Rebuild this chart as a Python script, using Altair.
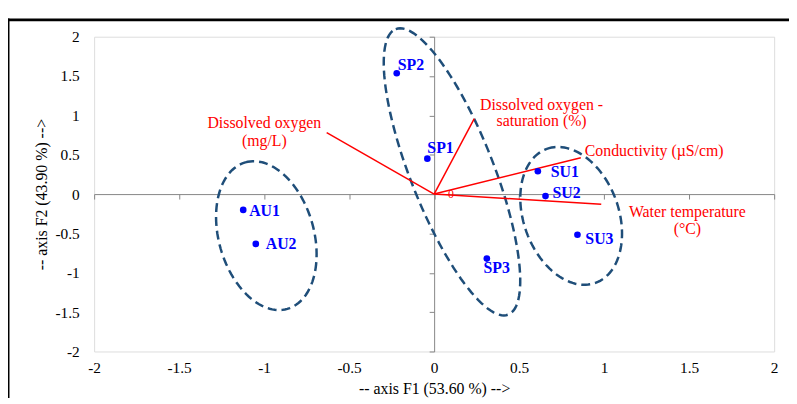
import altair as alt
import numpy as np
import pandas as pd

# ---------------- data ----------------
obs_names = ["SP1", "SP2", "SP3", "SU1", "SU2", "SU3", "AU1", "AU2"]
obs_f1 = [-0.04, -0.22, 0.31, 0.61, 0.655, 0.843, -1.123, -1.049]
obs_f2 = [0.45, 1.535, -0.82, 0.29, -0.025, -0.516, -0.201, -0.633]

var_names = ["Dissolved oxygen\n(mg/L)", "Dissolved oxygen -\nsaturation (%)",
             "Conductivity (\u00b5S/cm)", "Water temperature\n(\u00b0C)"]
var_f1 = [-0.632, 0.236, 0.863, 0.983]
var_f2 = [0.780, 0.960, 0.462, -0.130]

tick_values = [-2, -1.5, -1, -0.5, 0, 0.5, 1, 1.5, 2]

group_names = ["AU", "SP", "SU"]
group_cx = [-0.987, 0.105, 0.806]
group_cy = [-0.528, 0.283, -0.277]

# ---------------- layout / style ----------------
W, H = 687, 318
FONT = "'Liberation Serif', 'Times New Roman', 'DejaVu Serif', serif"
BLUE = "#0000FF"
RED = "#FF0000"
ELL = "#1F4E79"
AXG = "#868686"

# ellipse shapes (screen pixels: semi-major, semi-minor, tilt from vertical in deg)
ell_shape = {"AU": (77, 48, 16), "SP": (155, 42, 21.5), "SU": (72, 48, 20)}

xs = alt.Scale(domain=[-2, 2], nice=False, zero=False)
ys = alt.Scale(domain=[-2, 2], nice=False, zero=False)

obs = pd.DataFrame({"name": obs_names, "f1": obs_f1, "f2": obs_f2})
var = pd.DataFrame({"name": var_names, "f1": var_f1, "f2": var_f2,
                    "x0": [0.0] * len(var_names), "y0": [0.0] * len(var_names)})

# ellipse outlines built from the group parameters
sx, sy = W / 4.0, H / 4.0
t = np.linspace(0, 2 * np.pi, 121)
rows = []
for g, cx, cy in zip(group_names, group_cx, group_cy):
    a, b, th = ell_shape[g]
    th = np.radians(th)
    ux, uy = -np.sin(th) / sx, np.cos(th) / sy
    vx, vy = np.cos(th) / sx, np.sin(th) / sy
    for i, tt in enumerate(t):
        rows.append({"group": g, "i": i,
                     "f1": cx + a * np.cos(tt) * ux + b * np.sin(tt) * vx,
                     "f2": cy + a * np.cos(tt) * uy + b * np.sin(tt) * vy})
ell = pd.DataFrame(rows)

main_x_axis = alt.Axis(orient="bottom", values=tick_values, labelExpr="'' + datum.value",
                       domain=False, ticks=False, tickSize=0, grid=False, labelFont=FONT,
                       labelFontSize=15.5, labelColor="#000000", labelPadding=9, labelFlush=False,
                       title="-- axis F1 (53.60 %) -->", titleFont=FONT, titleFontSize=16,
                       titleFontWeight="normal", titleColor="#000000", titleX=W / 2, titleY=37,
                       titleBaseline="middle", titleAlign="center")
main_y_axis = alt.Axis(orient="left", values=tick_values, labelExpr="'' + datum.value",
                       domain=False, ticks=False, tickSize=0, grid=False, labelFont=FONT,
                       labelFontSize=15.5, labelColor="#000000", labelPadding=15, labelFlush=False,
                       title="-- axis F2 (43.90 %) -->", titleFont=FONT, titleFontSize=16,
                       titleFontWeight="normal", titleColor="#000000", titleX=-53, titleY=H / 2,
                       titleBaseline="middle", titleAlign="center", titleAngle=270)
zero_x_axis = alt.Axis(orient="bottom", offset=-H / 2, values=tick_values, labels=False,
                       title=None, grid=False, domainColor=AXG, tickColor=AXG, tickSize=5,
                       domainWidth=1, tickWidth=1)
zero_y_axis = alt.Axis(orient="left", offset=-W / 2, values=tick_values, labels=False,
                       title=None, grid=False, domainColor=AXG, tickColor=AXG, tickSize=5,
                       domainWidth=1, tickWidth=1)

one = pd.DataFrame({"k": [0]})
frame_top = alt.Chart(one).mark_rect(color="#000000", clip=False).encode(
    x=alt.value(-88), x2=alt.value(W + 40), y=alt.value(-18.5), y2=alt.value(-15.5))
frame_left = alt.Chart(one).mark_rect(color="#000000", clip=False).encode(
    x=alt.value(-88), x2=alt.value(-85.5), y=alt.value(-18.5), y2=alt.value(H + 60))

ellipses = alt.Chart(ell).mark_line(strokeDash=[9, 5], strokeWidth=2.5, color=ELL).encode(
    x=alt.X("f1:Q", scale=xs, axis=None),
    y=alt.Y("f2:Q", scale=ys, axis=None),
    detail="group:N",
    order="i:Q")

vectors = alt.Chart(var).mark_rule(color=RED, strokeWidth=1.5).encode(
    x=alt.X("x0:Q", scale=xs, axis=zero_x_axis),
    y=alt.Y("y0:Q", scale=ys, axis=zero_y_axis),
    x2="f1:Q", y2="f2:Q")

points = alt.Chart(obs).mark_circle(size=45, color=BLUE, opacity=1).encode(
    x=alt.X("f1:Q", scale=xs, axis=main_x_axis),
    y=alt.Y("f2:Q", scale=ys, axis=main_y_axis))


def label_layer(df, dx, dy, align, color, size, weight, lh=17):
    return alt.Chart(df).mark_text(
        dx=dx, dy=dy, align=align, baseline="alphabetic", font=FONT, fontSize=size,
        fontWeight=weight, color=color, lineBreak="\n", lineHeight=lh).encode(
        x=alt.X("f1:Q", scale=xs, axis=None),
        y=alt.Y("f2:Q", scale=ys, axis=None),
        text="name:N")


obs_label_style = {
    "SP1": (0, -6, "left"), "SP2": (1, -3, "left"), "SP3": (10, 15, "center"),
    "SU1": (13, 6, "left"), "SU2": (7, 2, "left"), "SU3": (8, 9, "left"),
    "AU1": (6, 6, "left"), "AU2": (10, 5, "left"),
}
var_label_style = [(-63, -5, "center", 18), (68, -9, "center", 17),
                   (4, -2, "left", 17), (87, 13, "center", 17)]

layers = [frame_top, frame_left, ellipses, vectors, points]
for i, n in enumerate(obs_names):
    dx, dy, al = obs_label_style[n]
    layers.append(label_layer(obs.iloc[[i]], dx, dy, al, BLUE, 16, "bold"))
for i in range(len(var_names)):
    dx, dy, al, lh = var_label_style[i]
    layers.append(label_layer(var.iloc[[i]], dx, dy, al, RED, 16, "normal", lh))
origin = pd.DataFrame({"name": ["0"], "f1": [0.0], "f2": [0.0]})
layers.append(label_layer(origin, 17, 4, "center", RED, 12, "normal"))

chart = alt.layer(*layers).resolve_axis(x="independent", y="independent").properties(
    width=W, height=H,
    padding={"left": 87, "top": 27, "right": 15, "bottom": 45},
    autosize=alt.AutoSizeParams(type="none"),
).configure_view(stroke="#BFBFBF", strokeWidth=1).configure(background="white")

chart.save("out.html", embed_options={"renderer": "svg", "actions": False})
